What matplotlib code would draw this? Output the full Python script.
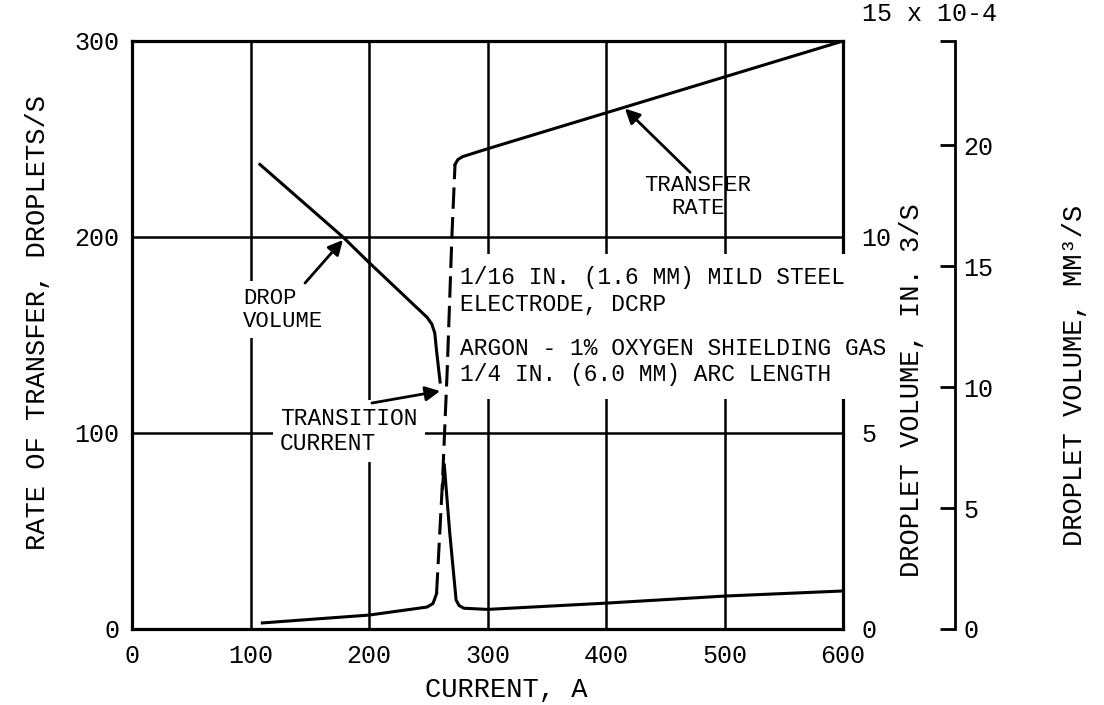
import matplotlib.pyplot as plt

plt.rcParams['font.family'] = ['Liberation Mono', 'DejaVu Sans']

# transfer rate (droplets/s) vs current (A)
current_low = [110, 200, 249, 254, 257]
rate_low = [3.1, 7.1, 11.2, 13.0, 18.0]
current_jump = [257, 262, 266, 270, 272.6]
rate_jump = [18, 75, 132, 201, 237]
current_high = [272.6, 275, 279, 300, 600]
rate_high = [237, 239.5, 241, 245, 300]

# drop volume (x 10^-4 in^3/s) vs current (A)
current_drop = [108, 178, 200, 249, 253, 255.5, 257, 260]
vol_drop = [11.85, 10.0, 9.35, 7.95, 7.78, 7.55, 7.1, 6.3]
current_spike = [262, 263.5, 268, 273.5, 276, 280, 300, 400, 500, 600]
vol_spike = [3.6, 4.2, 2.5, 0.74, 0.6, 0.53, 0.5, 0.66, 0.84, 0.97]

x_ticks = [0, 100, 200, 300, 400, 500, 600]
y_ticks = [0, 100, 200, 300]
in3_ticks = [0, 5, 10]
mm3_ticks = [0, 5, 10, 15, 20]
mm3_top = 24.3

LW = 2.2
fig = plt.figure(figsize=(11.04, 7.05), dpi=100)
ax = fig.add_axes([132/1104, 76/705, 711/1104, 588/705])
ax.set_xlim(0, 600)
ax.set_ylim(0, 300)
ax.set_xticks(x_ticks)
ax.set_yticks(y_ticks)
ax.tick_params(length=0, labelsize=18)
ax.tick_params(axis='y', pad=9)
ax.tick_params(axis='x', pad=11)
ax.grid(True, color='black', lw=1.8, zorder=0.5)
ax.set_axisbelow(True)
for s in ax.spines.values():
    s.set_linewidth(2.3)

ax.plot(current_low, rate_low, color='black', lw=LW, zorder=4)
ax.plot(current_jump, rate_jump, color='black', lw=LW, dashes=(7, 2.7), zorder=4)
ax.plot(current_high, rate_high, color='black', lw=LW, zorder=4)

box = dict(facecolor='white', edgecolor='none', boxstyle='square,pad=0.3')
box2 = dict(facecolor='white', edgecolor='none', boxstyle='square,pad=0.55')
ax.text(93.7, 162.8, "DROP\nVOLUME", fontsize=16, ha='left', va='center',
        linespacing=1.1, bbox=box, zorder=3)
ax.text(125, 101, "TRANSITION\nCURRENT", fontsize=16.5, ha='left', va='center',
        linespacing=1.1, bbox=box, zorder=3)
ax.text(477.6, 220.4, "TRANSFER\nRATE", fontsize=16, ha='center', va='center',
        multialignment='center', linespacing=1.1, zorder=3)
ax.text(276.8, 172.4, "1/16 IN. (1.6 MM) MILD STEEL\nELECTRODE, DCRP", fontsize=16.5,
        ha='left', va='center', linespacing=1.2, bbox=box2, zorder=3, clip_on=False)
ax.text(276.8, 136.5, "ARGON - 1% OXYGEN SHIELDING GAS\n1/4 IN. (6.0 MM) ARC LENGTH",
        fontsize=16.5, ha='left', va='center', linespacing=1.2, bbox=box2, zorder=3,
        clip_on=False)

arrow = dict(arrowstyle='-|>', color='black', lw=2, mutation_scale=22, shrinkA=0, shrinkB=0)
ax.annotate("", xy=(178, 198.5), xytext=(146, 176.5), arrowprops=arrow, zorder=5)
ax.annotate("", xy=(260, 121.4), xytext=(202.5, 115.3), arrowprops=arrow, zorder=5)
ax.annotate("", xy=(416, 265.5), xytext=(471, 233), arrowprops=arrow, zorder=5)

# droplet volume, in^3/s axis
ax2 = ax.twinx()
ax2.set_ylim(0, 15)
ax2.set_yticks(in3_ticks)
ax2.tick_params(length=0, labelsize=18, pad=13)
for s in ax2.spines.values():
    s.set_visible(False)
ax2.plot(current_drop, vol_drop, color='black', lw=LW, zorder=4)
ax2.plot(current_spike, vol_spike, color='black', lw=LW, zorder=4)

# droplet volume, mm^3/s axis
ax3 = ax.twinx()
ax3.set_ylim(0, mm3_top)
for s in ax3.spines.values():
    s.set_visible(False)
ax3.spines['right'].set_visible(True)
ax3.spines['right'].set_position(('axes', (955 - 132) / 711))
ax3.spines['right'].set_linewidth(2)
ax3.set_yticks(mm3_ticks)
ax3.set_yticks([mm3_top], minor=True)
ax3.tick_params(which='both', direction='in', length=11, width=2, labelsize=18, pad=6)

fig.text(38/1104, 1 - 322/705, "RATE OF TRANSFER, DROPLETS/S", rotation=90,
         ha='center', va='center', fontsize=19.5)
fig.text(506/1104, 1 - 690/705, "CURRENT, A", ha='center', va='center', fontsize=19.5)
fig.text(912/1104, 1 - 390/705, "DROPLET VOLUME, IN. 3/S", rotation=90,
         ha='center', va='center', fontsize=19.5)
fig.text(1075/1104, 1 - 375/705, "DROPLET VOLUME, MM\u00b3/S", rotation=90,
         ha='center', va='center', fontsize=19.5)
fig.text(930/1104, 1 - 14/705, "15 x 10-4", ha='center', va='center', fontsize=18)

fig.savefig("out.png", dpi=100)
